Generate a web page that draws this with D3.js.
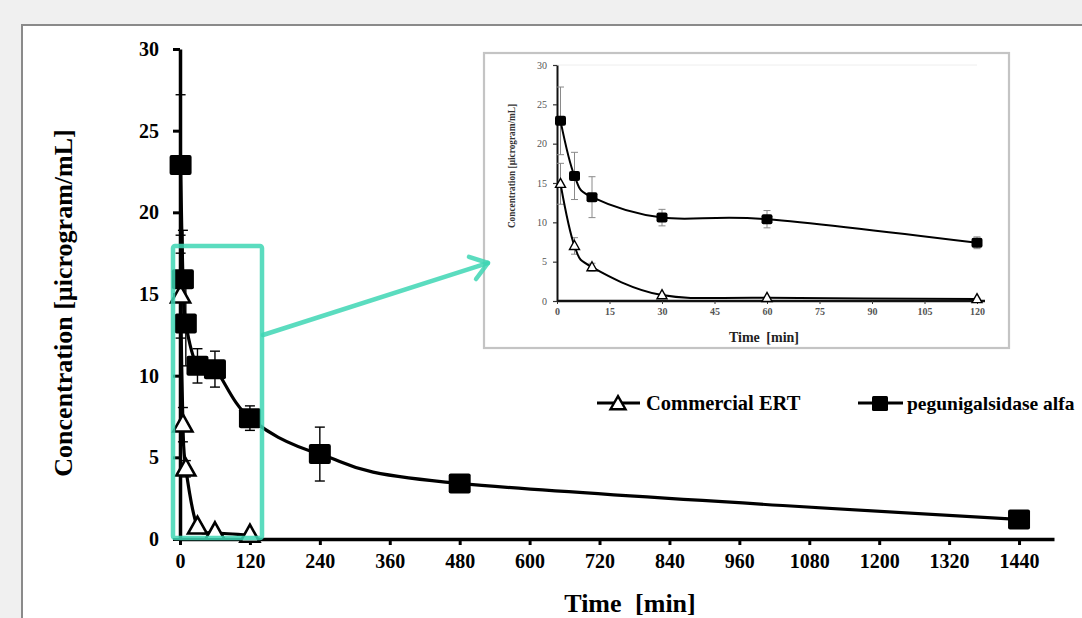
<!DOCTYPE html>
<html>
<head>
<meta charset="utf-8">
<script src="https://cdn.jsdelivr.net/npm/d3@7"></script>
<style>
  html, body { margin: 0; padding: 0; background: #f0f0f0; }
  svg { display: block; }
  text { font-family: "Liberation Serif", "Times New Roman", serif; }
</style>
</head>
<body>
<svg id="chart" width="1082" height="618"></svg>
<script>
// ---------- data ----------
const pegTimes = [1, 5, 10, 30, 60, 120, 240, 480, 1440];
const pegValues = [22.9, 15.9, 13.2, 10.6, 10.4, 7.4, 5.2, 3.4, 1.2];
const pegErrors = [4.3, 3.0, 2.6, 1.05, 1.1, 0.75, 1.65, 0.3, 0.2];
const ertTimes = [1, 5, 10, 30, 60, 120];
const ertValues = [14.9, 7.0, 4.3, 0.75, 0.4, 0.25];
const ertErrors = [2.6, 1.05, 0.5, 0.15, 0.1, 0.1];
const mainXTicks = [0, 120, 240, 360, 480, 600, 720, 840, 960, 1080, 1200, 1320, 1440];
const yTicks = [0, 5, 10, 15, 20, 25, 30];
const insetXTicks = [0, 15, 30, 45, 60, 75, 90, 105, 120];
const seriesNames = ["Commercial ERT", "pegunigalsidase alfa"];
const yTitle = "Concentration [µicrogram/mL]";
const xTitle = "Time [min]";

const peg = pegTimes.map((t, i) => ({t, v: pegValues[i], e: pegErrors[i]}));
const ert = ertTimes.map((t, i) => ({t, v: ertValues[i], e: ertErrors[i]}));

const svg = d3.select("#chart");
const TEAL = "rgba(62, 214, 180, 0.85)";
const fmt = d3.format("d");

// background + panel
svg.append("rect").attr("width", 1082).attr("height", 618).attr("fill", "#f0f0f0");
svg.append("rect").attr("x", 22).attr("y", 25).attr("width", 1120).attr("height", 700)
  .attr("fill", "#fff").attr("stroke", "#8a8a8a").attr("stroke-width", 2);

// ---------- main chart ----------
const x = d3.scaleLinear().domain([0, 1500]).range([180, 1054]);
const y = d3.scaleLinear().domain([0, 30]).range([539, 49]);
const curve = d3.curveCardinal.tension(0);

// axes
const gx = svg.append("g").attr("transform", `translate(0,${y(0)})`)
  .call(d3.axisBottom(x).tickValues(mainXTicks).tickFormat(fmt).tickSize(6).tickSizeOuter(0).tickPadding(9));
gx.select(".domain").attr("stroke", "#000").attr("stroke-width", 3.5);
gx.selectAll(".tick line").attr("stroke", "#000").attr("stroke-width", 3);
gx.selectAll(".tick text").attr("font-size", 20).attr("font-weight", "bold")
  .attr("fill", "#000").style("font-family", "Liberation Serif");

const gy = svg.append("g").attr("transform", `translate(${x(0)},0)`)
  .call(d3.axisLeft(y).tickValues(yTicks).tickFormat(fmt).tickSize(7).tickSizeOuter(0).tickPadding(14));
gy.select(".domain").attr("stroke", "#000").attr("stroke-width", 3.5);
gy.selectAll(".tick line").attr("stroke", "#000").attr("stroke-width", 3);
gy.selectAll(".tick text").attr("font-size", 20).attr("font-weight", "bold")
  .attr("fill", "#000").style("font-family", "Liberation Serif");

// titles
svg.append("text").attr("transform", "translate(72,303) rotate(-90)")
  .attr("text-anchor", "middle").attr("font-size", 26).attr("font-weight", "bold").text(yTitle);
svg.append("text").attr("x", 630).attr("y", 612)
  .attr("text-anchor", "middle").attr("font-size", 26).attr("font-weight", "bold")
  .attr("word-spacing", 7).text(xTitle);

function drawSeries(g, data, xs, ys, opts) {
  const eb = g.append("g");
  data.forEach(d => {
    const cx = xs(d.t);
    eb.append("line").attr("x1", cx).attr("x2", cx).attr("y1", ys(d.v + d.e)).attr("y2", ys(d.v - d.e))
      .attr("stroke", opts.errColor).attr("stroke-width", opts.errWidth);
    [d.v + d.e, d.v - d.e].forEach(v => {
      eb.append("line").attr("x1", cx - opts.cap).attr("x2", cx + opts.cap).attr("y1", ys(v)).attr("y2", ys(v))
        .attr("stroke", opts.errColor).attr("stroke-width", opts.errWidth);
    });
  });
  g.append("path").datum(data)
    .attr("d", d3.line().x(d => xs(d.t)).y(d => ys(d.v)).curve(curve))
    .attr("fill", "none").attr("stroke", "#000").attr("stroke-width", opts.lineWidth);
}

function drawSquares(g, data, xs, ys, w, h) {
  g.selectAll(null).data(data).enter().append("rect")
    .attr("x", d => xs(d.t) - w / 2).attr("y", d => ys(d.v) - h / 2)
    .attr("width", w).attr("height", h).attr("rx", 2).attr("fill", "#000");
}
function triPath(cx, cy, w, h) {
  return `M${cx},${cy - h * 0.6}L${cx + w / 2},${cy + h * 0.4}L${cx - w / 2},${cy + h * 0.4}Z`;
}
function drawTriangles(g, data, xs, ys, w, h, sw) {
  g.selectAll(null).data(data).enter().append("path")
    .attr("d", d => triPath(xs(d.t), ys(d.v), w, h))
    .attr("fill", "#fff").attr("stroke", "#000").attr("stroke-width", sw).attr("stroke-linejoin", "miter");
}

const mainG = svg.append("g");
const mainOpts = {errColor: "#000", errWidth: 1.4, cap: 5, lineWidth: 3.2};
drawSeries(mainG, ert, x, y, mainOpts);
drawSeries(mainG, peg, x, y, mainOpts);
drawTriangles(mainG, ert, x, y, 19, 17, 2.6);
drawSquares(mainG, peg, x, y, 22, 20);

// ---------- legend ----------
const lg = svg.append("g");
lg.append("line").attr("x1", 597).attr("x2", 640).attr("y1", 403).attr("y2", 403).attr("stroke", "#000").attr("stroke-width", 3);
lg.append("path").attr("d", triPath(618, 404, 15, 13)).attr("fill", "#fff").attr("stroke", "#000").attr("stroke-width", 2.4);
lg.append("text").attr("x", 646).attr("y", 410).attr("font-size", 20.5).attr("font-weight", "bold").text(seriesNames[0]);
lg.append("line").attr("x1", 858).attr("x2", 903).attr("y1", 403).attr("y2", 403).attr("stroke", "#000").attr("stroke-width", 3);
lg.append("rect").attr("x", 872).attr("y", 396).attr("width", 16).attr("height", 15).attr("rx", 1.5).attr("fill", "#000");
lg.append("text").attr("x", 907).attr("y", 410).attr("font-size", 19.5).attr("font-weight", "bold").text(seriesNames[1]);

// ---------- inset ----------
const ins = svg.append("g");
ins.append("rect").attr("x", 484).attr("y", 53).attr("width", 525).attr("height", 295)
  .attr("fill", "#fff").attr("stroke", "#c4c4c4").attr("stroke-width", 2.2);

const xi = d3.scaleLinear().domain([0, 120]).range([557, 977]);
const yi = d3.scaleLinear().domain([0, 30]).range([301, 65]);

ins.append("line").attr("x1", xi(0)).attr("x2", xi(120)).attr("y1", yi(30)).attr("y2", yi(30))
  .attr("stroke", "#eeeeee").attr("stroke-width", 1);

const gxi = ins.append("g").attr("transform", `translate(0,${yi(0)})`)
  .call(d3.axisBottom(xi).tickValues(insetXTicks).tickFormat(fmt).tickSize(3).tickSizeOuter(0).tickPadding(4));
gxi.select(".domain").attr("d", `M${xi(0)},0H${xi(120) + 8}`).attr("stroke", "#111").attr("stroke-width", 2.4);
gxi.selectAll(".tick line").attr("stroke", "#333").attr("stroke-width", 1);
gxi.selectAll(".tick text").attr("font-size", 10).attr("font-weight", "bold").attr("fill", "#555")
  .style("font-family", "Liberation Serif");

const gyi = ins.append("g").attr("transform", `translate(${xi(0)},0)`)
  .call(d3.axisLeft(yi).tickValues(yTicks).tickFormat(fmt).tickSize(4).tickSizeOuter(0).tickPadding(6));
gyi.select(".domain").attr("stroke", "#111").attr("stroke-width", 2);
gyi.selectAll(".tick line").attr("stroke", "#333").attr("stroke-width", 1.2);
gyi.selectAll(".tick text").attr("font-size", 10).attr("fill", "#555")
  .style("font-family", "Liberation Serif");

ins.append("text").attr("transform", "translate(515,166) rotate(-90)")
  .attr("text-anchor", "middle").attr("font-size", 9.3).attr("font-weight", "bold").attr("fill", "#333").text(yTitle);
ins.append("text").attr("x", 764).attr("y", 342)
  .attr("text-anchor", "middle").attr("font-size", 14).attr("font-weight", "bold").attr("fill", "#222")
  .attr("word-spacing", 3).text(xTitle);

const pegIn = peg.filter(d => d.t <= 120);
const insOpts = {errColor: "#8a8a8a", errWidth: 1, cap: 3.5, lineWidth: 2};
drawSeries(ins, ert, xi, yi, insOpts);
drawSeries(ins, pegIn, xi, yi, insOpts);
drawTriangles(ins, ert, xi, yi, 10, 9, 1.4);
drawSquares(ins, pegIn, xi, yi, 11, 10);

// ---------- teal zoom box + arrow ----------
const tg = svg.append("g").attr("stroke", TEAL).attr("fill", "none").attr("stroke-width", 4.5)
  .attr("stroke-linecap", "round").attr("stroke-linejoin", "round");
tg.append("rect").attr("x", 173).attr("y", 246).attr("width", 89).attr("height", 292).attr("rx", 2);
const ax0 = 263, ay0 = 335, ax1 = 488, ay1 = 263;
tg.append("line").attr("x1", ax0).attr("y1", ay0).attr("x2", ax1 - 2).attr("y2", ay1 + 0.6);
const ang = Math.atan2(ay1 - ay0, ax1 - ax0);
[0.62, -0.62].forEach(da => {
  const a = ang + Math.PI + da;
  tg.append("line").attr("x1", ax1).attr("y1", ay1)
    .attr("x2", ax1 + 20 * Math.cos(a)).attr("y2", ay1 + 20 * Math.sin(a));
});
</script>
</body>
</html>
